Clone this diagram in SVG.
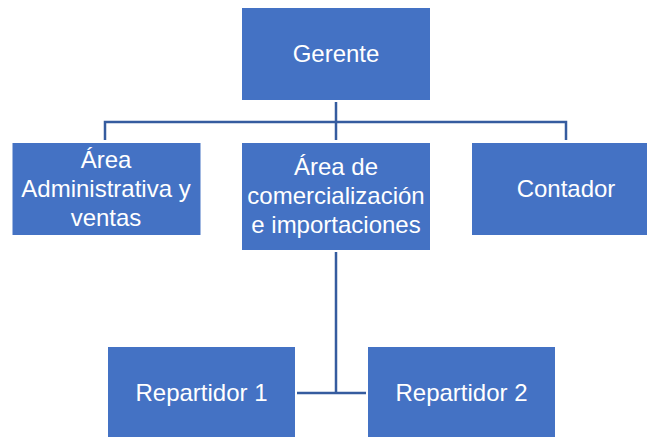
<svg xmlns="http://www.w3.org/2000/svg" width="647" height="437" viewBox="0 0 647 437">
<style>
.box{fill:#4472C4;}
.lbl{fill:#FFFFFF;font-family:"Liberation Sans",Arial,sans-serif;font-size:24px;text-anchor:middle;}
.conn{stroke:#355C9F;stroke-width:2.5;fill:none;}
</style>
<rect width="647" height="437" fill="#FFFFFF"/>
<g id="connectors">
<path class="conn" d="M336 102 V140 M105 140 V122 H566 V140"/>
<path class="conn" d="M336 252 V393 M297 393 H366"/>
</g>
<g id="gerente">
<rect class="box" x="242" y="8" width="188" height="92"/>
<text class="lbl" x="336" y="62">Gerente</text>
</g>
<g id="area-admin">
<rect class="box" x="12.5" y="143" width="188" height="92"/>
<text class="lbl" x="106" y="168">Área</text>
<text class="lbl" x="106" y="197">Administrativa y</text>
<text class="lbl" x="106" y="226">ventas</text>
</g>
<g id="area-comercial">
<rect class="box" x="242" y="143" width="188" height="107"/>
<text class="lbl" x="336" y="175">Área de</text>
<text class="lbl" x="336" y="204">comercialización</text>
<text class="lbl" x="336" y="233">e importaciones</text>
</g>
<g id="contador">
<rect class="box" x="472" y="143" width="188" height="92"/>
<text class="lbl" x="566" y="197">Contador</text>
</g>
<g id="repartidor1">
<rect class="box" x="108" y="347" width="187" height="92"/>
<text class="lbl" x="201.5" y="401">Repartidor 1</text>
</g>
<g id="repartidor2">
<rect class="box" x="368" y="347" width="187" height="92"/>
<text class="lbl" x="461.5" y="401">Repartidor 2</text>
</g>
</svg>
